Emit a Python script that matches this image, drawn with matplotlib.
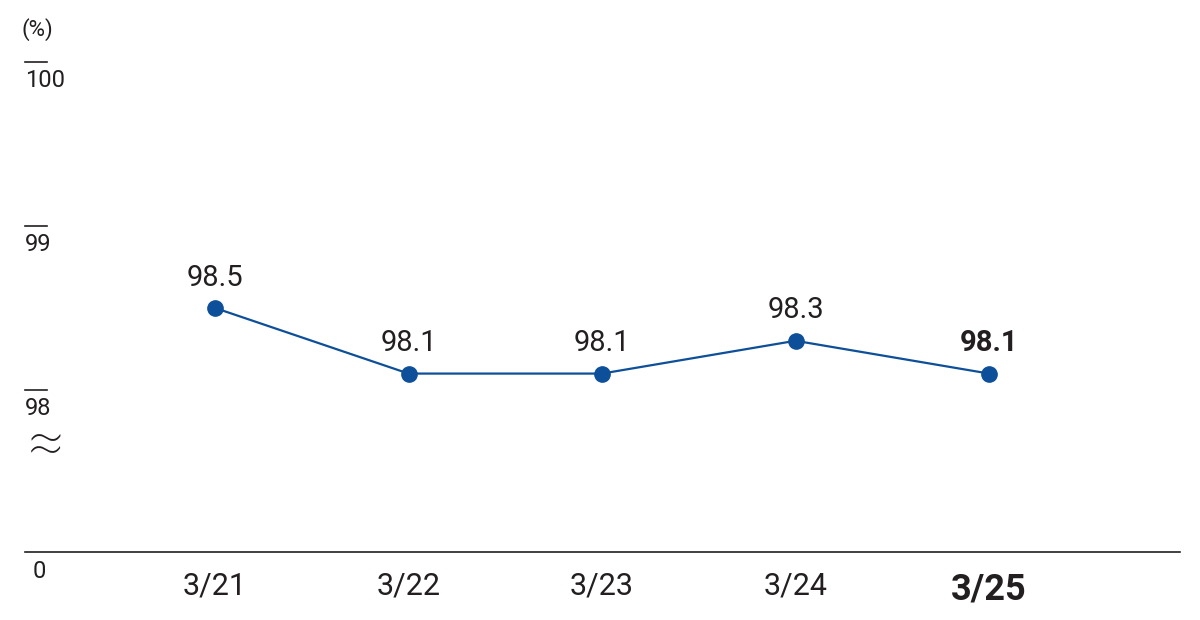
import matplotlib.pyplot as plt
import matplotlib.transforms as mtransforms

plt.rcParams['font.family'] = ['Roboto', 'DejaVu Sans']

categories = ['3/21', '3/22', '3/23', '3/24', '3/25']
values = [98.5, 98.1, 98.1, 98.3, 98.1]
y_ticks = [98, 99, 100]
base_value = 97.012  # broken-axis position of the "0" baseline

line_color = '#0d4f98'
text_color = '#231f20'

fig = plt.figure(figsize=(12, 6.2), dpi=100)
ax = fig.add_axes([25 / 1200, (620 - 552) / 620, 1155 / 1200, 532 / 620])

xs = list(range(len(values)))
ax.plot(xs, values, color=line_color, lw=1.6, marker='o', ms=11, zorder=3)
for i, (x, v) in enumerate(zip(xs, values)):
    ax.text(x, v + 0.1, f'{v:.1f}', ha='center', va='bottom', fontsize=21,
            color=text_color, fontweight='bold' if i == len(values) - 1 else 'normal')

ax.set_xlim(-0.982, 4.987)
ax.set_ylim(base_value, 100.256)

for s in ['top', 'right', 'left']:
    ax.spines[s].set_visible(False)
ax.spines['bottom'].set_color(text_color)
ax.spines['bottom'].set_linewidth(1.2)
ax.set_yticks([])
ax.set_xticks(xs)
ax.set_xticklabels(categories)
ax.tick_params(axis='x', length=0, pad=14, labelsize=22, colors=text_color)
last = ax.get_xticklabels()[-1]
last.set_fontweight('bold')
last.set_fontsize(26)

# y labels: short bar above each number
trans = mtransforms.blended_transform_factory(ax.transAxes, ax.transData)
for t in y_ticks:
    ax.plot([0, 0.019], [t, t], color=text_color, lw=1.2, transform=trans, clip_on=False)
    ax.text(0.0, t - 0.04, str(t), transform=trans, ha='left', va='top',
            fontsize=17, color=text_color)
ax.text(0.012, base_value - 0.05, '0', transform=trans, ha='center', va='top',
        fontsize=17, color=text_color)
ax.text(-0.003, 100.2, '(%)', transform=trans, ha='left', va='center',
        fontsize=16, color=text_color, clip_on=False)
ax.text(0.018, 97.66, '≈', transform=trans, ha='center', va='center',
        fontsize=46, color=text_color, fontweight='light')

fig.savefig('out.png', dpi=100)
